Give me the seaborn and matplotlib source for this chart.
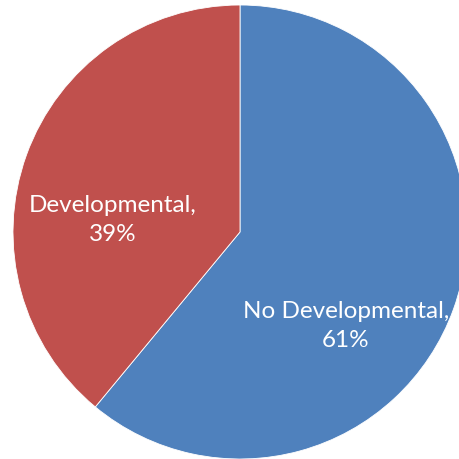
import matplotlib
matplotlib.use("Agg")
import matplotlib.pyplot as plt
import seaborn as sns

# Data
categories = ["No Developmental", "Developmental"]
shares = [61, 39]
colors = ["#4F81BD", "#C0504D"]

sns.set_theme(style="white")
plt.rcParams["font.family"] = ["Lato", "DejaVu Sans"]

W = H = 459
fig = plt.figure(figsize=(W / 100, H / 100), dpi=100)
ax = fig.add_axes([0, 0, 1, 1])

# circle centre and radius in pixels
cx, cy, r = 240, 232, 227

wedges, _ = ax.pie(
    shares,
    colors=colors,
    startangle=90,
    counterclock=False,
    radius=1,
    wedgeprops={"edgecolor": "white", "linewidth": 0.6},
)

ax.set_xlim(-cx / r, (W - cx) / r)
ax.set_ylim(-(H - cy) / r, cy / r)
ax.set_aspect("auto")
ax.axis("off")

# label positions (pixels) as in the original chart
label_px = [(346, 326), (113, 220)]
for cat, val, (px, py) in zip(categories, shares, label_px):
    ax.text(
        (px - cx) / r,
        (cy - py) / r,
        f"{cat},\n{val}%",
        ha="center",
        va="center",
        color="white",
        fontsize=17.5,
        fontweight="normal",
        linespacing=1.5,
    )

fig.savefig("out.png", dpi=100, facecolor="white")
